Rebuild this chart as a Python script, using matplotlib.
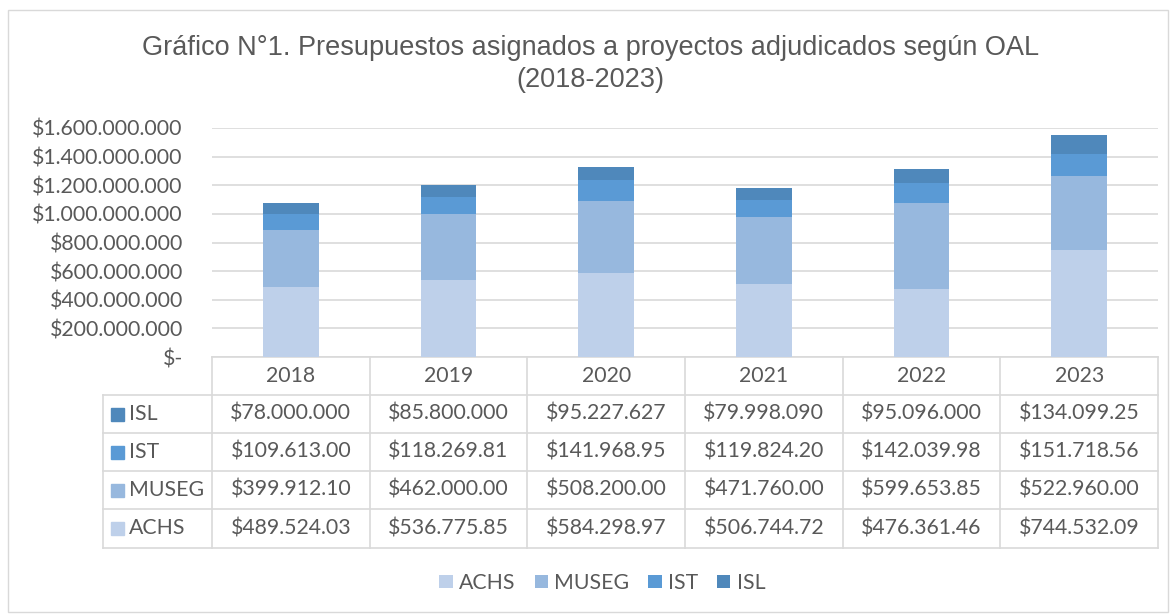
import numpy as np
import matplotlib
matplotlib.use("Agg")
import matplotlib.pyplot as plt
from matplotlib.transforms import blended_transform_factory
from matplotlib.patches import Rectangle

# Data (values in pesos, table shows them cut to the cell width like Excel)
years = ["2018", "2019", "2020", "2021", "2022", "2023"]
achs = [489524030, 536775850, 584298970, 506744720, 476361460, 744532090]
museg = [399912100, 462000000, 508200000, 471760000, 599653850, 522960000]
ist = [109613000, 118269810, 141968950, 119824200, 142039980, 151718560]
isl = [78000000, 85800000, 95227627, 79998090, 95096000, 134099250]
series_names = ["ACHS", "MUSEG", "IST", "ISL"]
colors = ["#BED0EA", "#97B8DE", "#5A9AD5", "#4F88BB"]
yticks = [0, 200e6, 400e6, 600e6, 800e6, 1000e6, 1200e6, 1400e6, 1600e6]

W, H = 1172, 614
txt = "#595959"
grid = "#D9D9D9"
fs = 15.3
plt.rcParams["font.family"] = ["Lato", "DejaVu Sans"]


def money(v):
    if v == 0:
        return "$-"
    return "$" + f"{int(v):,}".replace(",", ".")


def fy(py):
    return 1 - py / H


fig = plt.figure(figsize=(W / 100, H / 100), dpi=100)
fig.patches.append(Rectangle((8 / W, fy(612)), 1160 / W, 602 / H, transform=fig.transFigure,
                             fill=False, edgecolor=grid, lw=1))
ax = fig.add_axes([212 / W, fy(357), 946 / W, 229 / H])

data = [achs, museg, ist, isl]
x = np.arange(len(years))
bottom = np.zeros(len(years))
for name, vals, c in zip(series_names, data, colors):
    ax.bar(x, vals, width=0.355, bottom=bottom, color=c, label=name, zorder=3)
    bottom += np.array(vals)

ax.set_xlim(-0.5, len(years) - 0.5)
ax.set_ylim(0, 1.6e9)
ax.set_yticks(yticks)
ax.set_yticklabels([money(v) for v in yticks], fontsize=fs, color=txt)
ax.tick_params(axis="y", length=0, pad=21)
ax.set_xticks([])
for s in ax.spines.values():
    s.set_visible(False)
ax.yaxis.grid(True, color=grid, lw=1.2, zorder=0)
ax.set_axisbelow(True)

fig.text(0.504, fy(48), "Gráfico N°1. Presupuestos asignados a proyectos adjudicados según OAL",
         ha="center", va="center", fontsize=19.5, color=txt, family="Liberation Sans")
fig.text(0.504, fy(80), "(2018-2023)", ha="center", va="center", fontsize=19.5, color=txt,
         family="Liberation Sans")

# data table under the axis
tr = blended_transform_factory(ax.transData, fig.transFigure)
rows_top = [357, 395, 433, 471, 509, 548]
col_px = 946 / len(years)
left_x = -0.5 - 109 / col_px
x_edges = np.arange(len(years) + 1) - 0.5
lk = dict(color=grid, lw=1.2, transform=tr, clip_on=False)

for py in rows_top:
    x0 = -0.5 if py == 357 else left_x
    ax.plot([x0, x_edges[-1]], [fy(py), fy(py)], **lk)
for xe in x_edges:
    ax.plot([xe, xe], [fy(357), fy(548)], **lk)
ax.plot([left_x, left_x], [fy(395), fy(548)], **lk)

for i, yr in enumerate(years):
    ax.text(i, fy(376), yr, ha="center", va="center", fontsize=fs, color=txt, transform=tr)

table_order = [3, 2, 1, 0]  # ISL, IST, MUSEG, ACHS
for r, si in enumerate(table_order):
    yc = fy((rows_top[r + 1] + rows_top[r + 2]) / 2)
    ax.add_patch(Rectangle((left_x + 8 / col_px, yc - 6.5 / H), 13 / col_px, 13 / H,
                           color=colors[si], transform=tr, clip_on=False))
    ax.text(left_x + 26 / col_px, yc, series_names[si], ha="left", va="center",
            fontsize=fs, color=txt, transform=tr)
    for i, v in enumerate(data[si]):
        ax.text(i, yc, money(v)[:11], ha="center", va="center", fontsize=fs,
                color=txt, transform=tr)

leg = fig.legend(loc="center", bbox_to_anchor=(0.514, fy(583)), ncol=4, frameon=False,
                 fontsize=fs, handlelength=0.62, handleheight=0.62, handletextpad=0.3,
                 columnspacing=0.9)
for t in leg.get_texts():
    t.set_color(txt)

fig.savefig("out.png", dpi=100)
